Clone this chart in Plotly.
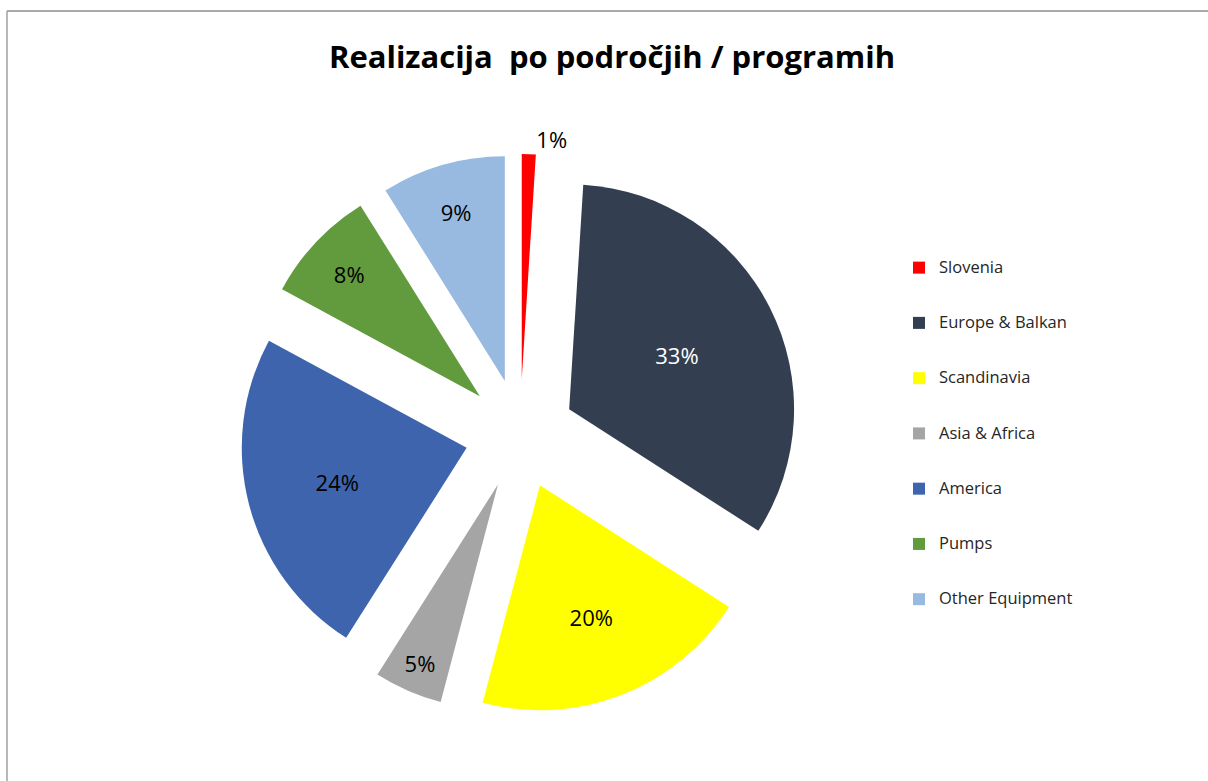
import plotly.graph_objects as go

# data
regions = ["Slovenia", "Europe & Balkan", "Scandinavia", "Asia & Africa",
           "America", "Pumps", "Other Equipment"]
shares = [1.0, 33.1, 20.0, 4.9, 23.9, 8.2, 8.9]
colors = ["#FF0000", "#333F50", "#FFFF00", "#A5A5A5", "#3D64AD", "#629B3E", "#98B9E0"]
label_colors = ["black", "white", "black", "black", "black", "black", "black"]
text_pos = ["outside", "inside", "inside", "inside", "inside", "inside", "inside"]

W, H = 1208, 781


def px_x(v):
    return v / W


def px_y(v):
    return 1 - v / H


# legend entries: blank line above and below so each row gets the tall spacing
legend_labels = [" <br><span style='font-size:16.5px'>%s</span><br> " % r for r in regions]

fig = go.Figure()
fig.add_trace(go.Pie(
    labels=legend_labels,
    values=shares,
    sort=False,
    direction="clockwise",
    rotation=0,
    pull=0.245,
    marker=dict(colors=colors, line=dict(width=0)),
    textinfo="percent",
    texttemplate="%{percent:.0%}",
    textposition=text_pos,
    insidetextorientation="horizontal",
    textfont=dict(family="Open Sans", size=22, color=label_colors),
    outsidetextfont=dict(family="Open Sans", size=22, color="black"),
    domain=dict(x=[px_x(240), px_x(800)], y=[px_y(714), px_y(154)]),
    hovertemplate="%{customdata}: %{percent}<extra></extra>",
    customdata=regions,
))

fig.update_layout(
    width=W, height=H, autosize=False,
    margin=dict(l=0, r=0, t=0, b=0, autoexpand=False),
    paper_bgcolor="white",
    title=dict(text="<b>Realizacija  po področjih / programih</b>",
               x=px_x(612), xanchor="center", y=px_y(57), yanchor="middle",
               font=dict(family="Open Sans", size=31, color="black")),
    legend=dict(x=px_x(899), xanchor="left", y=px_y(235), yanchor="top",
                font=dict(family="Open Sans", size=13.4, color="#262626"),
                valign="middle", itemwidth=30, traceorder="normal"),
    showlegend=True,
    shapes=[
        dict(type="line", xref="paper", yref="paper", x0=px_x(7), x1=1,
             y0=px_y(11), y1=px_y(11), line=dict(color="#8C8C8C", width=1.5)),
        dict(type="line", xref="paper", yref="paper", x0=px_x(7), x1=px_x(7),
             y0=px_y(11), y1=0, line=dict(color="#A0A0A0", width=1.5)),
    ],
)

fig.write_html("out.html", config={"responsive": False, "displayModeBar": False},
               post_script="document.body.style.margin='0';"
                           "document.body.style.overflow='hidden';")
